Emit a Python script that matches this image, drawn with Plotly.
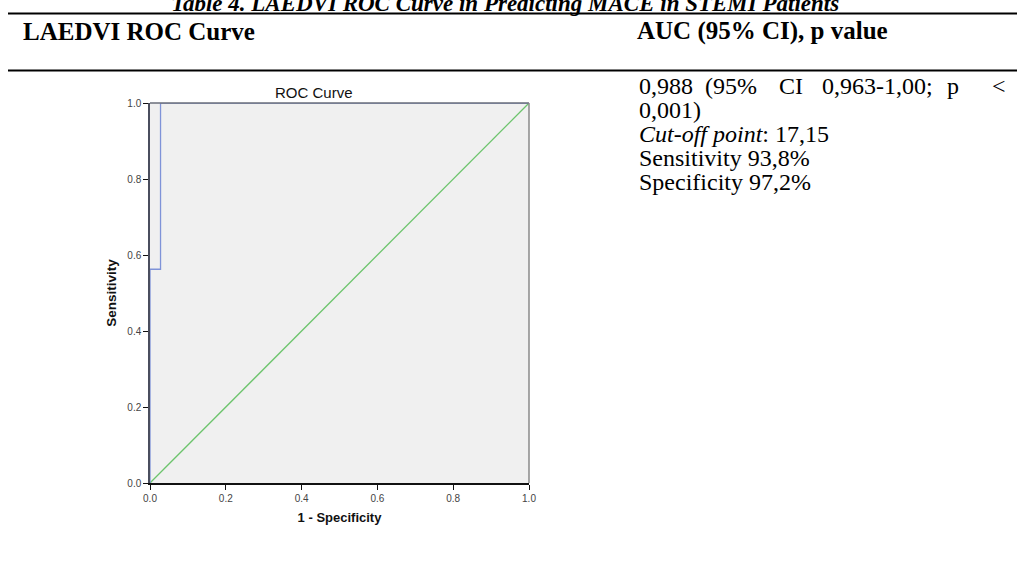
import plotly.graph_objects as go

# ---- data ----
fpr = [0.0, 0.0, 0.0278, 0.0278, 1.0]      # 1 - Specificity
tpr = [0.0, 0.5625, 0.5625, 1.0, 1.0]      # Sensitivity
ref_x = [0.0, 1.0]
ref_y = [0.0, 1.0]
tick_vals = [0.0, 0.2, 0.4, 0.6, 0.8, 1.0]
tick_text = ["0.0", "0.2", "0.4", "0.6", "0.8", "1.0"]

table_title = "Table 4. LAEDVI ROC Curve in Predicting MACE in STEMI Patients"
col1_header = "LAEDVI ROC Curve"
col2_header = "AUC (95% CI), p value"
line1_words = ["0,988", "(95%", "CI", "0,963-1,00;", "p", "&lt;"]
body_lines = ["0,001)", "<i>Cut-off point</i>: 17,15", "Sensitivity 93,8%", "Specificity 97,2%"]

W, H = 1017, 565
L, R, T, B = 150, 529, 103, 483   # plot area in screen pixels


def px(x):
    return (x - L) / (R - L)


def py(y):
    return (B - y) / (B - T)


SERIF = "Liberation Serif, Times New Roman, serif"
SANS = "Liberation Sans, Arial, sans-serif"

fig = go.Figure()
fig.add_trace(go.Scatter(x=ref_x, y=ref_y, mode="lines",
                         line=dict(color="#6cc46c", width=1.3),
                         cliponaxis=False, hoverinfo="skip"))
fig.add_trace(go.Scatter(x=fpr, y=tpr, mode="lines",
                         line=dict(color="#7f93d8", width=1.3),
                         cliponaxis=False, hoverinfo="skip"))

shapes = []
# table rules
shapes.append(dict(type="line", xref="paper", yref="paper", x0=px(8), x1=px(1020),
                   y0=py(13.5), y1=py(13.5), line=dict(color="black", width=2.2)))
shapes.append(dict(type="line", xref="paper", yref="paper", x0=px(8), x1=px(1020),
                   y0=py(70.5), y1=py(70.5), line=dict(color="black", width=2.2)))
# plot frame top & right
shapes.append(dict(type="line", xref="paper", yref="paper", x0=0, x1=1, y0=1, y1=1,
                   line=dict(color="#6a6e7a", width=1.5)))
shapes.append(dict(type="line", xref="paper", yref="paper", x0=1, x1=1, y0=0, y1=1,
                   line=dict(color="#8a8a8a", width=1.5)))

annotations = []
annotations.append(dict(xref="paper", yref="paper", x=px(505), y=py(3), text="<b><i>" + table_title + "</i></b>",
                        showarrow=False, xanchor="center", yanchor="middle",
                        font=dict(family=SERIF, size=23, color="black")))
annotations.append(dict(xref="paper", yref="paper", x=px(21), y=py(31), text="<b>" + col1_header + "</b>",
                        showarrow=False, xanchor="left", yanchor="middle",
                        font=dict(family=SERIF, size=25, color="black")))
annotations.append(dict(xref="paper", yref="paper", x=px(635), y=py(31), text="<b>" + col2_header + "</b>",
                        showarrow=False, xanchor="left", yanchor="middle",
                        font=dict(family=SERIF, size=25, color="black")))
# justified first line
word_x = [637, 703, 777, 820, 945, 990]
for wx, w in zip(word_x, line1_words):
    annotations.append(dict(xref="paper", yref="paper", x=px(wx), y=py(86), text=w,
                            showarrow=False, xanchor="left", yanchor="middle",
                            font=dict(family=SERIF, size=24, color="black")))
line_y = [110, 134, 158, 182]
for ly, t in zip(line_y, body_lines):
    annotations.append(dict(xref="paper", yref="paper", x=px(637), y=py(ly), text=t,
                            showarrow=False, xanchor="left", yanchor="middle",
                            font=dict(family=SERIF, size=24, color="black")))
# chart title
annotations.append(dict(xref="paper", yref="paper", x=px(314), y=py(93), text="ROC Curve",
                        showarrow=False, xanchor="center", yanchor="middle",
                        font=dict(family=SANS, size=15, color="#111")))

fig.update_layout(
    width=W, height=H,
    margin=dict(l=L, r=W - R, t=T, b=H - B),
    paper_bgcolor="white", plot_bgcolor="#f0f0f0",
    showlegend=False,
    shapes=shapes, annotations=annotations,
    xaxis=dict(range=[0, 1], tickvals=tick_vals, ticktext=tick_text, showgrid=False, zeroline=False,
               showline=True, linecolor="#111", linewidth=1.5, ticks="outside", ticklen=5,
               tickcolor="#111", tickfont=dict(family=SANS, size=10, color="#444"),
               title=dict(text="<b>1 - Specificity</b>", font=dict(family=SANS, size=13, color="#111"),
                          standoff=10)),
    yaxis=dict(range=[0, 1], tickvals=tick_vals, ticktext=tick_text, showgrid=False, zeroline=False,
               showline=True, linecolor="#4a4e5e", linewidth=1.5, ticks="outside", ticklen=5,
               tickcolor="#111", tickfont=dict(family=SANS, size=10, color="#444"),
               title=dict(text="<b>Sensitivity</b>", font=dict(family=SANS, size=13.5, color="#111"),
                          standoff=8)),
)

fig.write_html("out.html", config={"displayModeBar": False},
               post_script="document.body.style.margin='0';document.body.style.overflow='hidden';")
